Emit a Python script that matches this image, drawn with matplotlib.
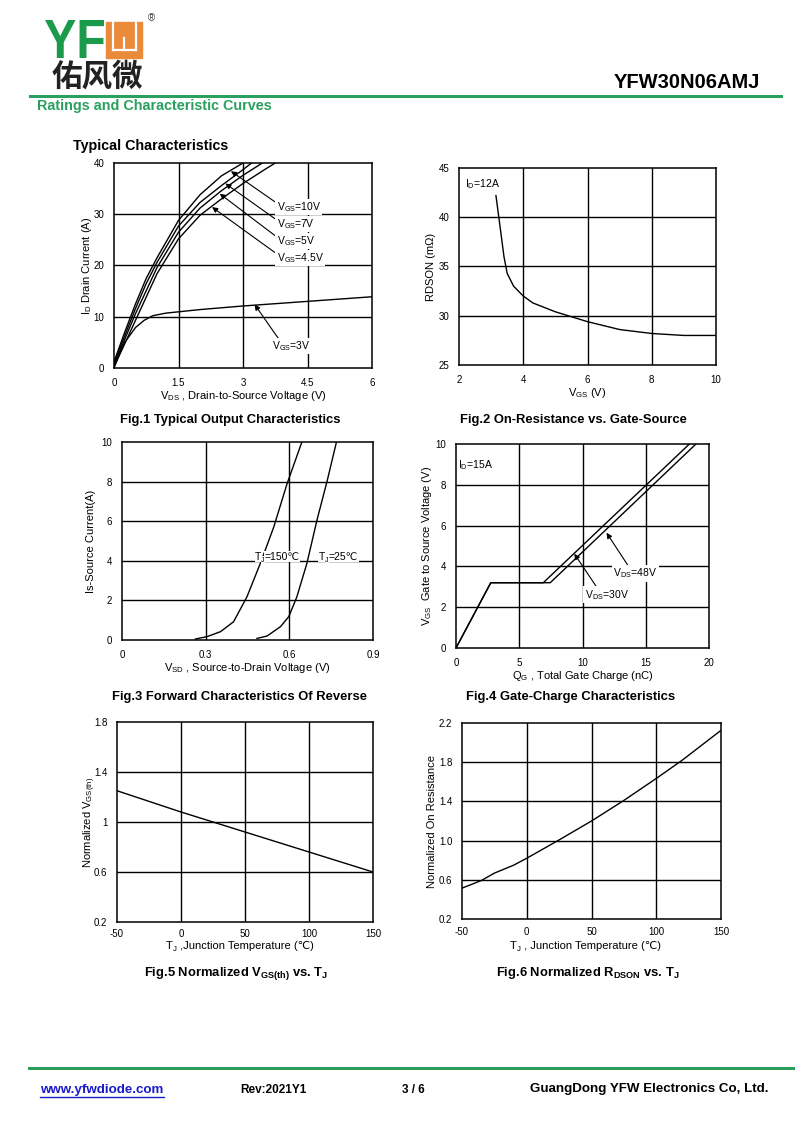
import matplotlib
matplotlib.use("Agg")
import matplotlib.pyplot as plt
from matplotlib.patches import Rectangle, PathPatch
from matplotlib.lines import Line2D
from matplotlib.textpath import TextPath
from matplotlib.font_manager import FontProperties
from matplotlib.transforms import Affine2D

plt.rcParams['font.family'] = ['Liberation Sans', 'DejaVu Sans']
plt.rcParams['mathtext.fontset'] = 'custom'
plt.rcParams['mathtext.rm'] = 'Liberation Sans'
plt.rcParams['mathtext.it'] = 'Liberation Sans:italic'
plt.rcParams['mathtext.bf'] = 'Liberation Sans:bold'
plt.rcParams['axes.unicode_minus'] = False

# ---------------- data ----------------
# Fig.1 output characteristics
f1_x10 = [0, 0.25, 0.5, 0.75, 1.0, 1.5, 2.0, 2.5, 3.0]
f1_y10 = [1.2, 7.0, 12.5, 17.5, 21.5, 28.8, 33.8, 37.5, 40.0]
f1_x7 = [0, 0.25, 0.5, 0.75, 1.0, 1.5, 2.0, 2.5, 3.0, 3.2]
f1_y7 = [1.0, 6.3, 11.6, 16.5, 20.6, 27.7, 32.3, 35.6, 38.7, 40.0]
f1_x5 = [0, 0.5, 1.0, 1.5, 2.0, 2.5, 3.0, 3.45]
f1_y5 = [0.6, 10.6, 19.6, 26.5, 31.2, 34.6, 37.6, 40.0]
f1_x45 = [0, 0.5, 1.0, 1.5, 2.0, 2.5, 3.0, 3.5, 3.75]
f1_y45 = [0.2, 9.3, 18.4, 25.2, 29.8, 33.0, 36.0, 38.7, 40.0]
f1_x3 = [0, 0.1, 0.25, 0.5, 0.7, 0.9, 1.2, 2.0, 3.0, 4.0, 5.0, 6.0]
f1_y3 = [0, 2.2, 5.0, 7.9, 9.3, 10.2, 10.7, 11.4, 12.1, 12.7, 13.3, 13.9]
f1_labels = ['V$_{\\mathrm{GS}}$=10V', 'V$_{\\mathrm{GS}}$=7V', 'V$_{\\mathrm{GS}}$=5V',
             'V$_{\\mathrm{GS}}$=4.5V']
f1_label_y = [31.4, 28.1, 24.8, 21.5]
f1_arrow_xy = [(2.72, 38.4), (2.59, 36.0), (2.46, 34.0), (2.28, 31.4)]

# Fig.2 on-resistance vs VGS
f2_x = [3.15, 3.3, 3.4, 3.5, 3.7, 4.0, 4.3, 5.0, 5.5, 6.0, 6.5, 7.0, 8.0, 9.0, 10.0]
f2_y = [42.2, 38.5, 36.0, 34.3, 33.0, 32.0, 31.3, 30.4, 29.9, 29.4, 29.0, 28.6, 28.2, 28.0, 28.0]

# Fig.3 body diode forward characteristics
f3_x150 = [0.263, 0.305, 0.353, 0.40, 0.448, 0.496, 0.544, 0.592, 0.645]
f3_y150 = [0.05, 0.17, 0.42, 0.92, 2.18, 3.87, 5.7, 7.9, 10.0]
f3_x25 = [0.484, 0.52, 0.568, 0.598, 0.627, 0.663, 0.699, 0.735, 0.769]
f3_y25 = [0.08, 0.2, 0.67, 1.18, 2.18, 3.87, 6.05, 8.0, 10.0]

# Fig.4 gate charge
f4_x30 = [0, 2.75, 6.9, 18.45]
f4_y30 = [0, 3.2, 3.2, 10.0]
f4_x48 = [0, 2.75, 7.45, 18.97]
f4_y48 = [0, 3.2, 3.2, 10.0]

# Fig.5 normalized VGS(th)
f5_x = [-50, 0, 25, 50, 100, 150]
f5_y = [1.25, 1.08, 1.0, 0.92, 0.76, 0.60]

# Fig.6 normalized RDSON
f6_x = [-50, -35, -25, -10, 0, 25, 50, 75, 100, 120, 150]
f6_y = [0.515, 0.593, 0.668, 0.75, 0.82, 1.007, 1.2, 1.41, 1.634, 1.82, 2.125]

# ---------------- figure ----------------
W, H = 800, 1130
fig = plt.figure(figsize=(8, 11.3), dpi=100)


def px_ax(x0, y0, x1, y1):
    return fig.add_axes([x0 / W, 1 - y1 / H, (x1 - x0) / W, (y1 - y0) / H])


def ftext(x, y, s, **kw):
    return fig.text(x / W, 1 - y / H, s, **kw)


TICK = 7
LAB = 8
CAP = 9.4
ANN = 7.5


def chain_sub(ax, x, y, base, sub, rest, size, transform, box=None):
    """Plain text 'base' + subscript 'sub' + 'rest' (rest may hold ℃, uses font fallback)."""
    kw = {}
    if box is not None:
        kw['bbox'] = box
    t0 = ax.text(x, y, base, fontsize=size, ha='left', va='center', transform=transform,
                 zorder=5, **kw)
    t1 = ax.annotate(sub, xy=(1, 0), xycoords=t0, xytext=(0, -1.2), textcoords='offset points',
                     fontsize=size * 0.7, ha='left', va='bottom', zorder=5, **kw)
    t2 = ax.annotate(rest, xy=(1, 0), xycoords=(t1, t0), ha='left', va='bottom',
                     fontsize=size, zorder=5, **kw)
    return t0, t1, t2


def style(ax, xlim, ylim, xt, yt, xtl=None, ytl=None, grid_x=None, grid_y=None):
    ax.set_xlim(*xlim)
    ax.set_ylim(*ylim)
    ax.set_xticks(xt)
    ax.set_yticks(yt)
    if xtl is not None:
        ax.set_xticklabels(xtl)
    if ytl is not None:
        ax.set_yticklabels(ytl)
    ax.tick_params(length=0, labelsize=TICK, pad=7)
    for sp in ax.spines.values():
        sp.set_linewidth(1.1)
        sp.set_color('black')
    for g in (grid_x or []):
        ax.axvline(g, color='black', lw=1.0, zorder=1)
    for g in (grid_y or []):
        ax.axhline(g, color='black', lw=1.0, zorder=1)


# ---------- header ----------
tp = TextPath((0, 0), 'YF', size=50, prop=FontProperties(family='Liberation Sans', weight='bold'))
ext = tp.get_extents()
bx0, by0, bx1, by1 = 45, 20, 104, 58
sx = (bx1 - bx0) / ext.width
sy = (by1 - by0) / ext.height
trans = (Affine2D().translate(-ext.x0, -ext.y0).scale(sx / W, sy / H)
         .translate(bx0 / W, 1 - by1 / H) + fig.transFigure)
fig.patches.append(PathPatch(tp, transform=trans, fc='#1c9a4c', ec='none', zorder=2))

ox0, oy0, ox1, oy1 = 106, 22, 142, 58
fig.patches.append(Rectangle((ox0 / W, 1 - oy1 / H), (ox1 - ox0) / W, (oy1 - oy0) / H,
                             transform=fig.transFigure, color='#ec8a3c', zorder=2))
for (xa, ya, xb, yb) in [(112.5, 22, 112.5, 50), (135.5, 22, 135.5, 50), (112.5, 50, 135.5, 50),
                         (124, 38, 124, 50)]:
    fig.lines.append(Line2D([xa / W, xb / W], [1 - ya / H, 1 - yb / H], transform=fig.transFigure,
                            color='white', lw=1.6, zorder=3))
ftext(151, 18, '®', fontsize=7, color='#333333', ha='center', va='center')
ftext(52, 77, '佑风微', fontsize=22, fontweight='bold', family=['Noto Sans CJK SC', 'DejaVu Sans'],
      color='#222222', va='center')
ftext(760, 83, 'YFW30N06AMJ', fontsize=14.5, fontweight='bold', ha='right', va='center')
fig.lines.append(Line2D([30 / W, 781 / W], [1 - 95.5 / H, 1 - 95.5 / H], transform=fig.transFigure,
                        color='#2ba05e', lw=2.2))
ftext(37, 106, 'Ratings and Characteristic Curves', fontsize=10.4, fontweight='bold', color='#2ba05e',
      va='center')
ftext(73, 146, 'Typical Characteristics', fontsize=10.3, fontweight='bold', va='center')

# ---------- footer ----------
fig.lines.append(Line2D([29 / W, 793 / W], [1 - 1068 / H, 1 - 1068 / H], transform=fig.transFigure,
                        color='#2ba05e', lw=2.2))
ftext(40, 1090, 'www.yfwdiode.com', fontsize=9.6, fontweight='bold', color='#1a1acc', va='center')
fig.lines.append(Line2D([40 / W, 164 / W], [1 - 1096.5 / H, 1 - 1096.5 / H],
                        transform=fig.transFigure, color='#1a1acc', lw=1.0))
ftext(240, 1090, 'Rev:2021Y1', fontsize=8.5, fontweight='bold', va='center')
ftext(402, 1090, '3 / 6', fontsize=8.5, fontweight='bold', va='center')
ftext(530, 1089, 'GuangDong YFW Electronics Co, Ltd.', fontsize=9.6, fontweight='bold', va='center')

arrow_kw = dict(arrowstyle='-|>', lw=0.8, color='black', mutation_scale=8, shrinkA=0, shrinkB=0)
white_box = dict(boxstyle='square,pad=0.1', fc='white', ec='none')

# ---------- Fig.1 ----------
ax1 = px_ax(114, 163, 372, 368)
style(ax1, (0, 6), (0, 40), [0, 1.5, 3, 4.5, 6], [0, 10, 20, 30, 40],
      xtl=['0', '1.5', '3', '4.5', '6'], grid_x=[1.5, 3, 4.5], grid_y=[10, 20, 30])
for xs, ys in [(f1_x10, f1_y10), (f1_x7, f1_y7), (f1_x5, f1_y5), (f1_x45, f1_y45), (f1_x3, f1_y3)]:
    ax1.plot(xs, ys, color='black', lw=1.0, zorder=3)
for lab, ly, axy in zip(f1_labels, f1_label_y, f1_arrow_xy):
    ax1.annotate(lab, xy=axy, xytext=(3.78, ly), fontsize=ANN, ha='left', va='center', zorder=5,
                 bbox=white_box, arrowprops=dict(arrow_kw, relpos=(0, 0.8)))
ax1.annotate('V$_{\\mathrm{GS}}$=3V', xy=(3.27, 12.4), xytext=(3.68, 4.3), fontsize=ANN, ha='left',
             va='center', zorder=5, bbox=white_box, arrowprops=dict(arrow_kw, relpos=(0.17, 1.0)))
ax1.set_xlabel('V$_{\\mathrm{DS}}$ , Drain-to-Source Voltage (V)', fontsize=LAB, labelpad=1)
ax1.set_ylabel('I$_{\\mathrm{D}}$ Drain Current (A)', fontsize=LAB, labelpad=0)
ftext(230, 420, 'Fig.1 Typical Output Characteristics', fontsize=CAP, fontweight='bold', ha='center',
      va='center')

# ---------- Fig.2 ----------
ax2 = px_ax(459, 168, 716, 365)
style(ax2, (2, 10), (25, 45), [2, 4, 6, 8, 10], [25, 30, 35, 40, 45],
      grid_x=[4, 6, 8], grid_y=[30, 35, 40])
ax2.plot(f2_x, f2_y, color='black', lw=1.0, zorder=3)
ax2.text(2.19, 43.4, 'I$_{\\mathrm{D}}$=12A', fontsize=ANN, ha='left', va='center')
ax2.set_xlabel('V$_{\\mathrm{GS}}$ (V)', fontsize=LAB, labelpad=1)
ax2.set_ylabel('RDSON (mΩ)', fontsize=LAB, labelpad=2)
ftext(573, 420, 'Fig.2 On-Resistance vs. Gate-Source', fontsize=CAP, fontweight='bold', ha='center',
      va='center')

# ---------- Fig.3 ----------
ax3 = px_ax(122, 442, 373, 640)
style(ax3, (0, 0.9), (0, 10), [0, 0.3, 0.6, 0.9], [0, 2, 4, 6, 8, 10],
      xtl=['0', '0.3', '0.6', '0.9'], grid_x=[0.3, 0.6], grid_y=[2, 4, 6, 8])
ax3.plot(f3_x150, f3_y150, color='black', lw=1.0, zorder=3)
ax3.plot(f3_x25, f3_y25, color='black', lw=1.0, zorder=3)
lbox = dict(boxstyle='square,pad=0.05', fc='white', ec='none')
chain_sub(ax3, 0.477, 4.2, 'T', 'J', '=150℃', ANN, ax3.transData, box=lbox)
chain_sub(ax3, 0.706, 4.2, 'T', 'J', '=25℃', ANN, ax3.transData, box=lbox)
ax3.set_xlabel('V$_{\\mathrm{SD}}$ , Source-to-Drain Voltage (V)', fontsize=LAB, labelpad=1)
ax3.set_ylabel('Is-Source Current(A)', fontsize=LAB, labelpad=4)
ftext(240, 697, 'Fig.3 Forward Characteristics Of Reverse', fontsize=CAP, fontweight='bold',
      ha='center', va='center')

# ---------- Fig.4 ----------
ax4 = px_ax(456, 444, 709, 648)
style(ax4, (0, 20), (0, 10), [0, 5, 10, 15, 20], [0, 2, 4, 6, 8, 10],
      grid_x=[5, 10, 15], grid_y=[2, 4, 6, 8])
ax4.plot(f4_x30, f4_y30, color='black', lw=1.0, zorder=3)
ax4.plot(f4_x48, f4_y48, color='black', lw=1.0, zorder=3)
ax4.text(0.18, 8.97, 'I$_{\\mathrm{D}}$=15A', fontsize=ANN, ha='left', va='center')
ax4.annotate('V$_{\\mathrm{DS}}$=48V', xy=(11.9, 5.65), xytext=(12.43, 3.66), fontsize=ANN,
             ha='left', va='center', zorder=5,
             bbox=dict(boxstyle='square,pad=0.15', fc='white', ec='none'),
             arrowprops=dict(arrow_kw, relpos=(0.35, 1.0)))
ax4.annotate('V$_{\\mathrm{DS}}$=30V', xy=(9.35, 4.62), xytext=(10.2, 2.6), fontsize=ANN,
             ha='left', va='center', zorder=5,
             bbox=dict(boxstyle='square,pad=0.15', fc='white', ec='none'),
             arrowprops=dict(arrow_kw, relpos=(0.28, 1.0)))
ax4.set_xlabel('Q$_{\\mathrm{G}}$ , Total Gate Charge (nC)', fontsize=LAB, labelpad=1)
ax4.set_ylabel('V$_{\\mathrm{GS}}$  Gate to Source Voltage (V)', fontsize=LAB, labelpad=1)
ftext(571, 697, 'Fig.4 Gate-Charge Characteristics', fontsize=CAP, fontweight='bold', ha='center',
      va='center')

# ---------- Fig.5 ----------
ax5 = px_ax(117, 722, 373, 922)
style(ax5, (-50, 150), (0.2, 1.8), [-50, 0, 50, 100, 150], [0.2, 0.6, 1.0, 1.4, 1.8],
      ytl=['0.2', '0.6', '1', '1.4', '1.8'], grid_x=[0, 50, 100], grid_y=[0.6, 1.0, 1.4])
ax5.tick_params(axis='x', pad=5)
ax5.plot(f5_x, f5_y, color='black', lw=1.0, zorder=3)
chain_sub(ax5, 166 / W, 1 - 946 / H, 'T', 'J', ' ,Junction Temperature (℃)', LAB, fig.transFigure)
ax5.set_ylabel('Normalized V$_{\\mathrm{GS(th)}}$', fontsize=LAB)
ax5.yaxis.set_label_coords(-0.075, 0.5)
ftext(236, 973, 'Fig.5 Normalized V$_{\\mathbf{GS(th)}}$ vs. T$_{\\mathbf{J}}$', fontsize=CAP,
      fontweight='bold', ha='center', va='center')

# ---------- Fig.6 ----------
ax6 = px_ax(462, 723, 721, 919)
style(ax6, (-50, 150), (0.2, 2.2), [-50, 0, 50, 100, 150], [0.2, 0.6, 1.0, 1.4, 1.8, 2.2],
      ytl=['0.2', '0.6', '1.0', '1.4', '1.8', '2.2'], grid_x=[0, 50, 100], grid_y=[0.6, 1.0, 1.4, 1.8])
ax6.tick_params(axis='x', pad=6)
ax6.plot(f6_x, f6_y, color='black', lw=1.0, zorder=3)
chain_sub(ax6, 510 / W, 1 - 946 / H, 'T', 'J', ' , Junction Temperature (℃)', LAB, fig.transFigure)
ax6.set_ylabel('Normalized On Resistance', fontsize=LAB)
ax6.yaxis.set_label_coords(-0.097, 0.5)
ftext(588, 973, 'Fig.6 Normalized R$_{\\mathbf{DSON}}$ vs. T$_{\\mathbf{J}}$', fontsize=CAP,
      fontweight='bold', ha='center', va='center')

fig.savefig('out.png', dpi=100, facecolor='white')
